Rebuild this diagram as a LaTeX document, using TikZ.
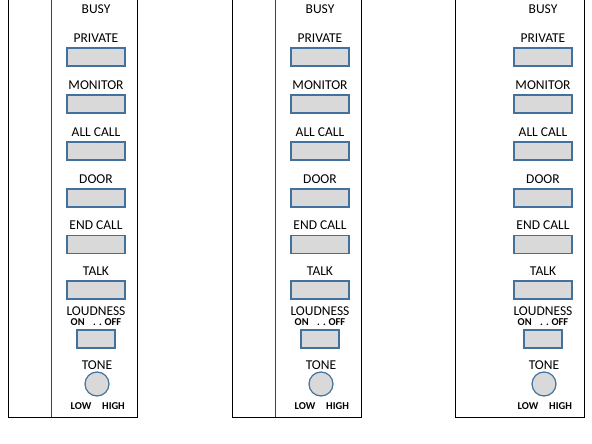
\documentclass[tikz,border=0pt]{standalone}
\usepackage{fontspec}
\setmainfont{Carlito}
\usepackage{tikz}
\usetikzlibrary{positioning}
\definecolor{keyfill}{RGB}{217,217,217}
\definecolor{keyline}{RGB}{65,113,156}
\tikzset{
  caption/.style  = {font=\fontsize{13.5}{15}\selectfont, inner sep=0pt,
                     text height=8.6pt, text depth=0pt},
  subcaption/.style = {font=\bfseries\fontsize{10.5}{12}\selectfont, inner sep=0pt,
                     text height=6.7pt, text depth=0pt},
  key/.style      = {draw=keyline, fill=keyfill, line width=1.2pt,
                     minimum width=58pt, minimum height=18pt, inner sep=0pt},
  smallkey/.style = {key, minimum width=38pt},
  knob/.style     = {circle, draw=keyline, fill=keyfill, line width=1.2pt,
                     minimum size=24pt, inner sep=0pt},
  frame/.style    = {line width=1pt},
  divider/.style  = {line width=0.8pt, black!75}
}

\begin{document}
\begin{tikzpicture}[x=1pt,y=-1pt,node distance=5pt]
  \useasboundingbox (0,0) rectangle (592,444);
  % three intercom panels
  \foreach \p/\x/\d in {a/8/1, b/232/1, c/455/0} {
    \draw[frame] (\x,-5) -- (\x,417) -- (\x+129,417) -- (\x+129,-5);
    \ifnum\d=1
      \draw[divider] (\x+43,-5) -- (\x+43,417);
    \fi
    \node[caption] (\p-busy) at (\x+88,9) {BUSY};
    % push buttons
    \foreach \n/\t/\y in {private/PRIVATE/57, monitor/MONITOR/104,
                          allcall/ALL CALL/151, door/DOOR/198,
                          endcall/END CALL/244.5, talk/TALK/290} {
      \node[caption, key] (\p-\n) at (\x+88,\y) {};
      \node[caption, above=5pt of \p-\n] (\p-\n-t) {\t};
    }
    % loudness switch
    \node[smallkey] (\p-loud) at (\x+88,339) {};
    \node[subcaption, above=3.5pt of \p-loud] (\p-onoff) {ON\hspace{0.8em}.\hspace{0.3em}.\hspace{0.25em}OFF};
    \node[caption, above=3pt of \p-onoff] (\p-loud-t) {LOUDNESS};
    % tone knob
    \node[knob] (\p-tone) at (\x+89,384) {};
    \node[caption, above=1.5pt of \p-tone] (\p-tone-t) {TONE};
    \node[subcaption] (\p-low) at (\x+73,406) {LOW};
    \node[subcaption] (\p-high) at (\x+105.5,406) {HIGH};
  }
\end{tikzpicture}
\end{document}
